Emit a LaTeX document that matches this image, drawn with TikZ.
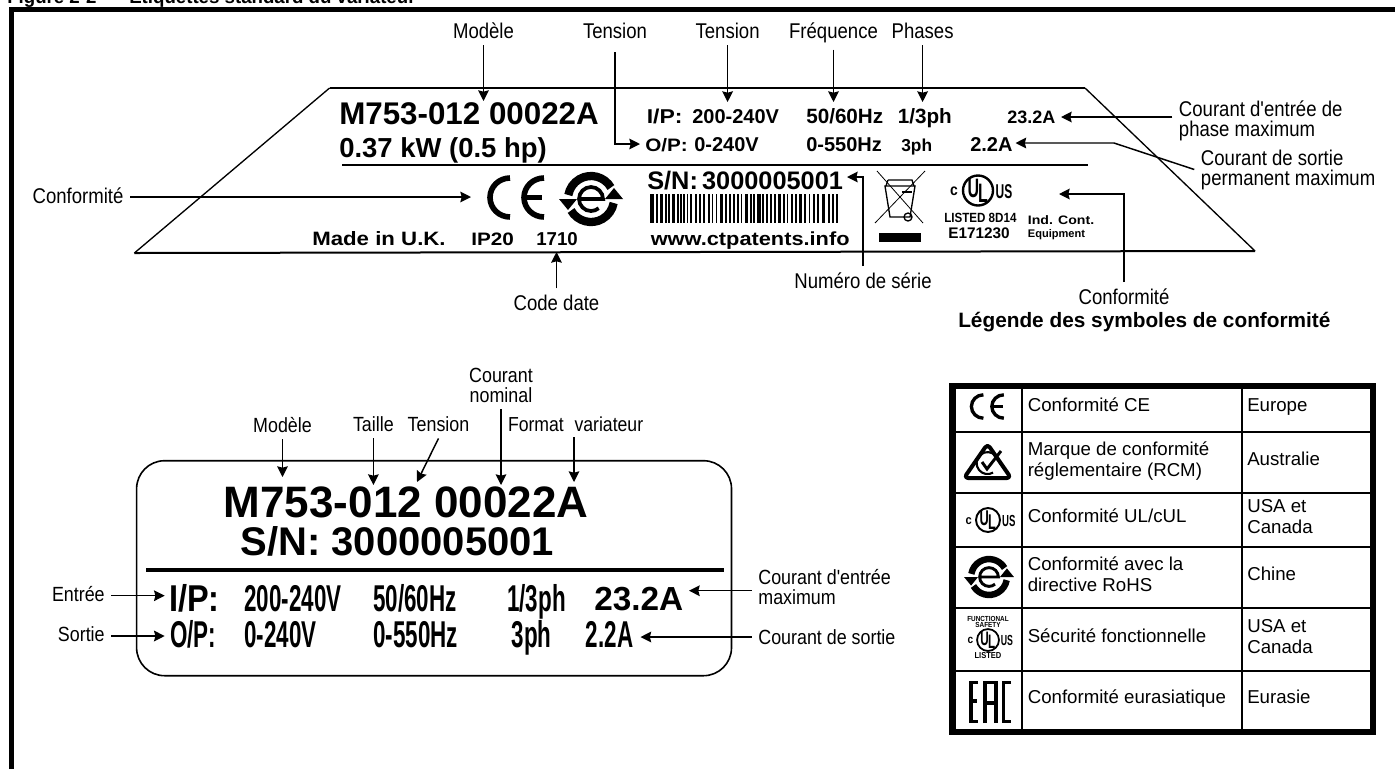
\documentclass[tikz,border=0pt]{standalone}
\usepackage{fontspec}
\usetikzlibrary{arrows.meta}
\setmainfont{Liberation Sans}
\newfontfamily\narrowfont[FakeStretch=0.87]{Liberation Sans}
\newfontfamily\tallfont[FakeStretch=0.60]{Liberation Sans}
\newfontfamily\widefont[FakeStretch=1.15]{Liberation Sans}
\newcommand{\fs}[1]{\fontsize{#1}{#1}\selectfont}
% CE mark
\newcommand{\ceicon}[2]{\begin{scope}[shift={#1},scale=#2,line width=#2*4.2pt]
\draw (-6,-19.5) arc[start angle=-90,end angle=-270,x radius=20,y radius=19.5];
\draw (28,-19.5) arc[start angle=-90,end angle=-270,x radius=20,y radius=19.5];
\draw (9,0)--(26,0);
\end{scope}}
% RoHS mark
\newcommand{\rohsicon}[2]{\begin{scope}[shift={#1},scale=#2,line width=#2*6.2pt]
\draw ({23*cos(330)},{23*sin(330)}) arc[start angle=330,end angle=190,radius=23];
\fill (-32,0)--(-14,0)--(-23,11)--cycle;
\draw ({23*cos(150)},{23*sin(150)}) arc[start angle=150,end angle=10,radius=23];
\fill (32,0)--(14,0)--(23,-11)--cycle;
\draw[line width=#2*2.8pt] (-12,0)--(12,0) arc[start angle=0,end angle=-310,radius=12];
\end{scope}}
% UL mark
\newcommand{\ulicon}[3]{\begin{scope}[shift={#1},scale=#2,every node/.style={transform shape,inner sep=0pt}]
\draw[line width=#2*1.8pt] (0,0) circle (15);
\node[font=\tallfont\bfseries\fs{20}] (#3u) at (-4.6,-2) {U};
\node[font=\tallfont\bfseries\fs{20}] (#3l) at (5,2.5) {L};
\node[font=\narrowfont\bfseries\fs{12}] (#3c) at (-24,1) {c};
\node[font=\tallfont\bfseries\fs{15}] (#3s) at (26,1) {US};
\end{scope}}

\begin{document}
\begin{tikzpicture}[x=0.75pt,y=-0.75pt,>={Stealth[length=8pt,width=8pt,inset=1pt]},
lbl/.style={anchor=base,inner sep=0pt,outer sep=5pt,align=center,font=\narrowfont\fontsize{16}{15}\selectfont},
lblb/.style={lbl,align=left,anchor=west},
lbll/.style={lbl,font=\narrowfont\fontsize{15.4}{15}\selectfont},
stamp/.style={anchor=base west,inner sep=0pt,font=\bfseries\fs{#1}},
stampw/.style={stamp,font=\widefont\bfseries\fs{#1}},
stampn/.style={stamp,font=\narrowfont\bfseries\fs{#1}},
rowtxt/.style={stamp,font=\tallfont\bfseries\fs{28}},
cell/.style={anchor=west,inner sep=0pt,align=left,font=\fontsize{14}{15.75}\selectfont},
arr/.style={->,line width=1.1pt}]
\useasboundingbox (0,0) rectangle (1395,769);
\clip (0,0) rectangle (1395,769);
\node[stamp=14] (figNo) at (7,3) {Figure 2-2};
\node[stamp=14] (figTitle) at (129,3) {Etiquettes standard du variateur};
\draw[line width=4pt] (11.5,769)--(11.5,9.5)--(1395,9.5);

% upper label
\draw[line width=1pt] (329.6,88)--(134.4,253);
\draw[line width=1pt] (1085,88)--(1255,251);
\draw[line width=1.5pt] (329.6,88)--(1085,88);
\draw[line width=1.5pt] (134.4,253)--(1255,251);
\draw[line width=1.6pt] (342,165)--(1088,165);
\node[stamp=23.5] (upModel) at (339,124) {M753-012 00022A};
\node[stamp=20.6] (upPower) at (339,157) {0.37 kW (0.5 hp)};
\node[stampw=15] (upIP) at (646.5,123) {I/P:};
\node[stampw=13.5] (upOP) at (645,151) {O/P:};
\foreach \nm/\px/\py/\sz/\txt in {upA/692/123/15/200-240V,upB/806/123/15.5/{50/60Hz},upC/897.6/123/15.5/{1/3ph},upD/1007/123/13.5/23.2A,
 upE/694/151/15/0-240V,upF/806/151/15/0-550Hz,upG/901/151/13/3ph,upH/970/151/15/2.2A,upI/536/245.5/14/1710}
 \node[stamp=\sz] (\nm) at (\px,\py) {\txt};
\node[stampw=14.5] (upMade) at (312,245.5) {Made in U.K.};
\node[stampw=13.5] (upIPc) at (471,245.5) {IP20};
\node[stamp=19] (upSN) at (647,189) {S/N:\,3000005001};
\node[stampw=14.2] (upWeb) at (650.5,245) {www.ctpatents.info};
\foreach \bx/\bw in {650/4,656/2,660/3,665/1.5,668/1.5,672/3,677/1.5,680/1.5,683/1.5,687/1,690/1.5,695/2,699/1.5,703/2,708/1.5,712/1,716/1,720/3,725/1.5,729/1.5,733/2,737/1.5,741/1,745/3,750/1.5,753/1.5,757/4,762/1.5,766/1.5,770/2,774/1.5,778/3,783/1.5,787/1,791/2,795/1.5,799/3,804/1.5,809/1,813/2,817/1.5,822/3,828/1.5,832/2,836/2}
 \fill (\bx,194) rectangle ++(\bw,29);
\ceicon{(516,197.5)}{1}
\rohsicon{(591,199)}{1}
% bin
\draw[line width=.6pt] (875,223)--(925,171) (877,171)--(923,223);
\draw[line width=1pt] (885,186)--(915,186)--(910,217)--(890,217)--cycle;
\draw[line width=1pt] (888,180)--(912,180)--(914,186) (888,180)--(886,186);
\draw[line width=1.5pt] (902,192)--(912,192);
\draw[line width=1pt] (908,217) circle (4);
\fill (879,233) rectangle (921,242);
\ulicon{(978,190.5)}{1}{upUL}
\node[stampn=10] (upListed) at (944,222) {LISTED 8D14};
\node[stamp=11.5] (upE) at (948,238) {E171230};
\node[stampw=9.2] (upInd) at (1027.6,224) {Ind. Cont.};
\node[stamp=8.3] (upEq) at (1027.6,237) {Equipment};

% upper callouts
\node[lbl] (nModele) at (483.5,38.5) {Modèle};
\node[lbl] (nTensA) at (615,38.5) {Tension};
\node[lbl] (nTensB) at (727.6,38.5) {Tension};
\node[lbl] (nFreq) at (833.5,38.5) {Fréquence};
\node[lbl] (nPhases) at (922.6,38.5) {Phases};
\node[lbl] (nConfL) at (78,203.5) {Conformité};
\node[lbl] (nDate) at (556.5,310.5) {Code date};
\node[lbl] (nSerie) at (863,288.5) {Numéro de série};
\node[lbl] (nConfR) at (1124,304.5) {Conformité};
\node[lblb] (nCent) at (1172.3,121) {Courant d'entrée de\\phase maximum};
\node[lblb] (nCsor) at (1194.3,169.5) {Courant de sortie\\permanent maximum};
\coordinate (tModele) at (483.5,101);
\coordinate (tOP) at (640,144);
\coordinate (tTensB) at (727.6,102);
\coordinate (tFreq) at (833.5,102);
\coordinate (tPhases) at (922.6,102);
\coordinate (tConfL) at (471,197);
\coordinate (tDate) at (556.5,252);
\coordinate (tSerie) at (847,177);
\coordinate (tConfR) at (1059,194);
\coordinate (tCent) at (1061,117);
\coordinate (eCsor) at (1114,143);
\coordinate (tCsor) at (1015.5,143);
\draw[arr] (nModele.south)--(tModele);
\draw[arr,shorten <=5pt] (nTensA.south) |- (tOP);
\draw[arr] (nTensB.south)--(tTensB);
\draw[arr] (nFreq.south)--(tFreq);
\draw[arr] (nPhases.south)--(tPhases);
\draw[arr] (nConfL.east |- tConfL)--(tConfL);
\draw[arr] (nDate.north)--(tDate);
\draw[arr] (nSerie.north) |- (tSerie);
\draw[arr] (nConfR.north) |- (tConfR);
\draw[arr] (nCent.west |- tCent)--(tCent);
\draw[arr] (nCsor.west)--(eCsor)--(tCsor);

% lower label
\draw[line width=1.2pt,rounded corners=21pt] (136.6,460.7) rectangle (731.5,675.7);
\draw[line width=3.6pt] (146,570)--(724,570);
\node[stamp=33] (loModel) at (223.6,517) {M753-012 00022A};
\node[stamp=30] (loSN) at (240.4,555) {S/N: 3000005001};
\node[stampn=28] (loIP) at (169,611) {I/P:};
\node[rowtxt] (loOP) at (170,647) {O/P:};
\foreach \nm/\px/\py/\txt in {loA/244/611/200-240V,loB/373/611/{50/60Hz},loC/507/611/{1/3ph},loD/244/647/0-240V,loE/373/647/0-550Hz,loF/511.5/647/3ph,loG/585.6/647/2.2A}
 \node[rowtxt] (\nm) at (\px,\py) {\txt};
\node[stamp=25] (loH) at (594,610) {23.2A};

% lower callouts
\node[lbll] (mModele) at (282.5,432.5) {Modèle};
\node[lbll] (mTaille) at (373.4,431.5) {Taille};
\node[lbll] (mTens) at (438.5,431.5) {Tension};
\node[lbll] (mCour) at (501,402.5) {Courant\\nominal};
\node[stamp=14,font=\narrowfont\fs{15.2},outer sep=4pt] (mFormat) at (502.7,431.5) {Format\hspace{8pt}variateur};
\node[lbll,anchor=base east] (mEntree) at (111.3,601.5) {Entrée};
\node[lbll,anchor=base east] (mSortie) at (111.3,641.5) {Sortie};
\node[lbll,align=left,anchor=west] (mCent) at (751.7,587.5) {Courant d'entrée\\maximum};
\node[lbll,align=left,anchor=west] (mCsor) at (751.7,637) {Courant de sortie};
\coordinate (uModele) at (282.5,477);
\coordinate (uTaille) at (373.4,485);
\coordinate (uTens) at (417,482);
\coordinate (uCour) at (501,485);
\coordinate (uFormat) at (574,482);
\coordinate (uEntree) at (164.7,595.7);
\coordinate (uSortie) at (164.7,636);
\coordinate (uCent) at (689,590.7);
\coordinate (uCsor) at (640.5,637);
\draw[arr] (mModele.south)--(uModele);
\draw[arr] (mTaille.south)--(uTaille);
\draw[arr] (mTens.south)--(uTens);
\draw[arr] (mCour.south)--(uCour);
\draw[arr] (uFormat |- mFormat.south)--(uFormat);
\draw[arr] (mEntree.east |- uEntree)--(uEntree);
\draw[arr] (mSortie.east |- uSortie)--(uSortie);
\draw[arr] (mCent.west |- uCent)--(uCent);
\draw[arr] (mCsor.west)--(uCsor);

% legend table
\node[stamp=15.6] (tabTitle) at (958,327) {Légende des symboles de conformité};
\foreach \ry in {432,493,547,608,671} \draw[line width=1.2pt] (949,\ry)--(1373,\ry);
\draw[line width=1.2pt] (1022,386)--(1022,732) (1242,386)--(1242,732);
\draw[line width=4.9pt] (952.5,386) rectangle (1373,732);
\foreach \nm/\ry/\txt in {cA/405/Conformité CE,cB/461/{Marque de conformité\\réglementaire (RCM)},cC/516/{Conformité UL/cUL},cD/574/{Conformité avec la\\directive RoHS},cE/636/Sécurité fonctionnelle,cF/699/Conformité eurasiatique}
 \node[cell] (\nm) at (1027.5,\ry) {\txt};
\foreach \nm/\ry/\txt in {rA/407/Europe,rB/458.5/Australie,rC/516.5/{USA et\\Canada},rD/574/Chine,rE/637/{USA et\\Canada},rF/697/Eurasie}
 \node[cell] (\nm) at (1247,\ry) {\txt};
\ceicon{(987,406.5)}{.6}
% RCM mark
\draw[line width=3pt,rounded corners=3pt,line join=round] (987.5,444)--(1011,478)--(964,478)--cycle;
\draw[line width=1.6pt] (996,456) arc[start angle=-40,end angle=-300,radius=11];
\draw[line width=2.2pt] (982,462)--(987,469)--(1001,451);
\ulicon{(988,520)}{.8}{tabUL}
\rohsicon{(989,577)}{.78}
\node[stampn=5.5,anchor=center,align=center] (tabFunc) at (988,622) {FUNCTIONAL\\[-1pt]SAFETY};
\ulicon{(988,640)}{.73}{tabFS}
\node[stampn=6.5,anchor=center] (tabList) at (988,656) {LISTED};
% EAC mark
\begin{scope}[line width=2.8pt]
\draw (978,682.5)--(970.7,682.5)--(970.7,721.5)--(978,721.5) (970.7,701)--(977,701);
\draw (984.7,723)--(984.7,682.5)--(996,682.5)--(996,723) (984.7,703)--(996,703);
\draw (1011,682.5)--(1003.5,682.5)--(1003.5,721.5)--(1011,721.5);
\end{scope}
\end{tikzpicture}
\end{document}
